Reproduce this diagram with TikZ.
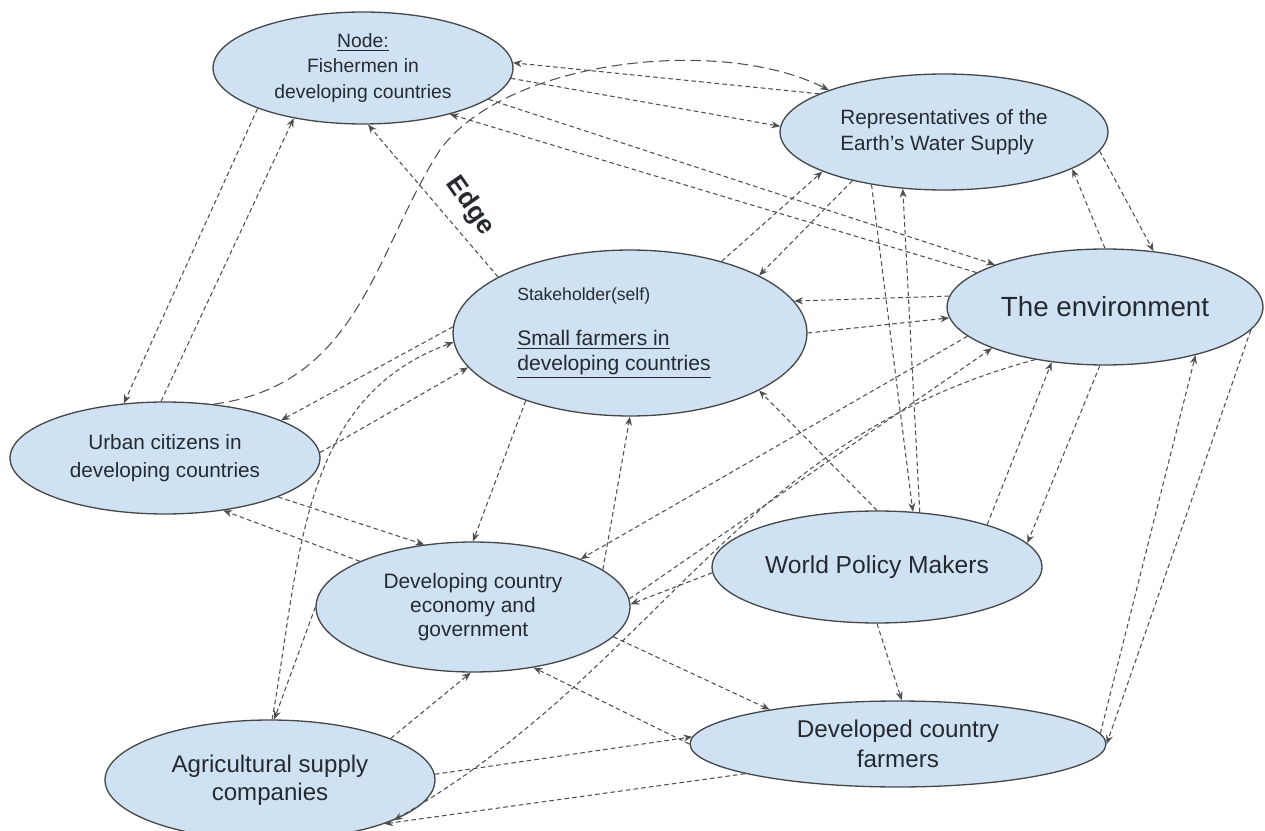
\documentclass[tikz,border=0pt]{standalone}
\usepackage{fontspec}
\setmainfont{Liberation Sans}
\usetikzlibrary{shapes.geometric,arrows.meta}

\definecolor{nodefill}{HTML}{CFE2F3}
\definecolor{nodeline}{HTML}{474747}
\definecolor{linkgray}{HTML}{4F4F4F}
\definecolor{labeltext}{HTML}{262A30}

\newcommand*{\setfs}[2]{\fontsize{#1}{#2}\selectfont}

\begin{document}
\begin{tikzpicture}
[
	x=0.02cm, y=-0.02cm,
	stake/.style={ellipse,draw=nodeline,line width=0.75pt,fill=nodefill,inner sep=0pt,align=center,text=labeltext},
	link/.style={linkgray,line width=0.6pt,dash pattern=on 2.6pt off 1.8pt,-{Stealth[length=5pt,width=4pt]}},
	longlink/.style={link,dash pattern=on 6pt off 3pt}
]

	\useasboundingbox (0,0) rectangle (1265,831);

	% stakeholders
	\node[stake,minimum width=6cm,minimum height=2.24cm,font=\setfs{11}{14.5}] (fish) at (363,68)
		{\underline{Node:}\\Fishermen in\\developing countries};
	\node[stake,minimum width=6.56cm,minimum height=2.32cm,align=left,font=\setfs{11.8}{14.5}] (water) at (944,132)
		{Representatives of the\\Earth's Water Supply};
	\node[stake,minimum width=7.08cm,minimum height=3.32cm,align=left,font=\setfs{12}{14}] (self) at (630,333)
		{{\setfs{10}{12}Stakeholder(self)}\\[12pt]\underline{Small farmers in}\\\underline{developing countries}\hspace*{0.64cm}};
	\node[stake,minimum width=6.32cm,minimum height=2.32cm,font=\setfs{15.8}{19}] (env) at (1105,307)
		{The environment};
	\node[stake,minimum width=6.2cm,minimum height=2.24cm,font=\setfs{11.8}{16}] (urban) at (165,458)
		{Urban citizens in\\developing countries};
	\node[stake,minimum width=6.28cm,minimum height=2.6cm,font=\setfs{11.9}{13.8}] (econ) at (473,607)
		{Developing country\\economy and\\government};
	\node[stake,minimum width=6.6cm,minimum height=2.24cm,font=\setfs{14}{17}] (wpm) at (877,567)
		{World Policy Makers};
	\node[stake,minimum width=6.6cm,minimum height=2.4cm,font=\setfs{13.7}{16}] (agri) at (270,780)
		{Agricultural supply\\companies};
	\node[stake,minimum width=8.32cm,minimum height=1.72cm,font=\setfs{13.8}{17}] (devd) at (898,744)
		{Developed country\\farmers};

	\node[font=\bfseries\setfs{15}{18},text=labeltext,rotate=-55] (edgelbl) at (470,206) {Edge};

	% fishermen links
	\draw[link] (water.163) -- (fish.2);
	\draw[link] (fish.-4) -- (water.178);
	\draw[link] (self.157) -- (fish.-85);
	\draw[link] (fish.-159) -- (urban.127);
	\draw[link] (urban.94) -- (fish.-144);
	\draw[link] (fish.-14) -- (env.159);
	\draw[link] (env.165) -- (fish.-28);
	\draw[longlink] (urban.48) .. controls (360,385) and (375,250) .. (440,150)
		.. controls (505,60) and (720,35) .. (water.160);

	% self links
	\draw[link] (self.38) -- (water.-162);
	\draw[link] (water.-152) -- (self.24);
	\draw[link] (env.176) -- (self.11);
	\draw[link] (self.0) -- (env.184);
	\draw[link] (self.-147) -- (econ.90);
	\draw[link] (econ.16) -- (self.-90);
	\draw[link] (self.178) -- (urban.18);
	\draw[link] (urban.2) -- (self.192);
	\draw[link] (wpm.90) -- (self.-24);
	\draw[link] (agri.88) to[out=80,in=200] (self.183);

	% water supply links
	\draw[link] (water.-144) -- (wpm.57);
	\draw[link] (wpm.52) -- (water.-126);
	\draw[link] (water.-7) -- (env.49);
	\draw[link] (env.90) -- (water.-16);

	% environment links
	\draw[link] (env.192) -- (econ.24);
	\draw[link] (econ.3) -- (env.200);
	\draw[link] (env.217) to[out=195,in=30] (agri.-18);
	\draw[link] (wpm.21) -- (env.226);
	\draw[link] (env.-95) -- (wpm.9);
	\draw[link] (env.-9) -- (devd.0);
	\draw[link] (devd.3) -- (env.-28);

	% economy, urban and farmer links
	\draw[link] (wpm.182) -- (econ.1);
	\draw[link] (urban.-19) -- (econ.128);
	\draw[link] (econ.158) -- (urban.-42);
	\draw[link] (econ.180) -- (agri.86);
	\draw[link] (agri.19) -- (econ.-92);
	\draw[link] (econ.-12) -- (devd.165);
	\draw[link] (devd.180) -- (econ.-45);
	\draw[link] (agri.2) -- (devd.178);
	\draw[link] (devd.191) -- (agri.-21);
	\draw[link] (wpm.-90) -- (devd.85);

\end{tikzpicture}
\end{document}
